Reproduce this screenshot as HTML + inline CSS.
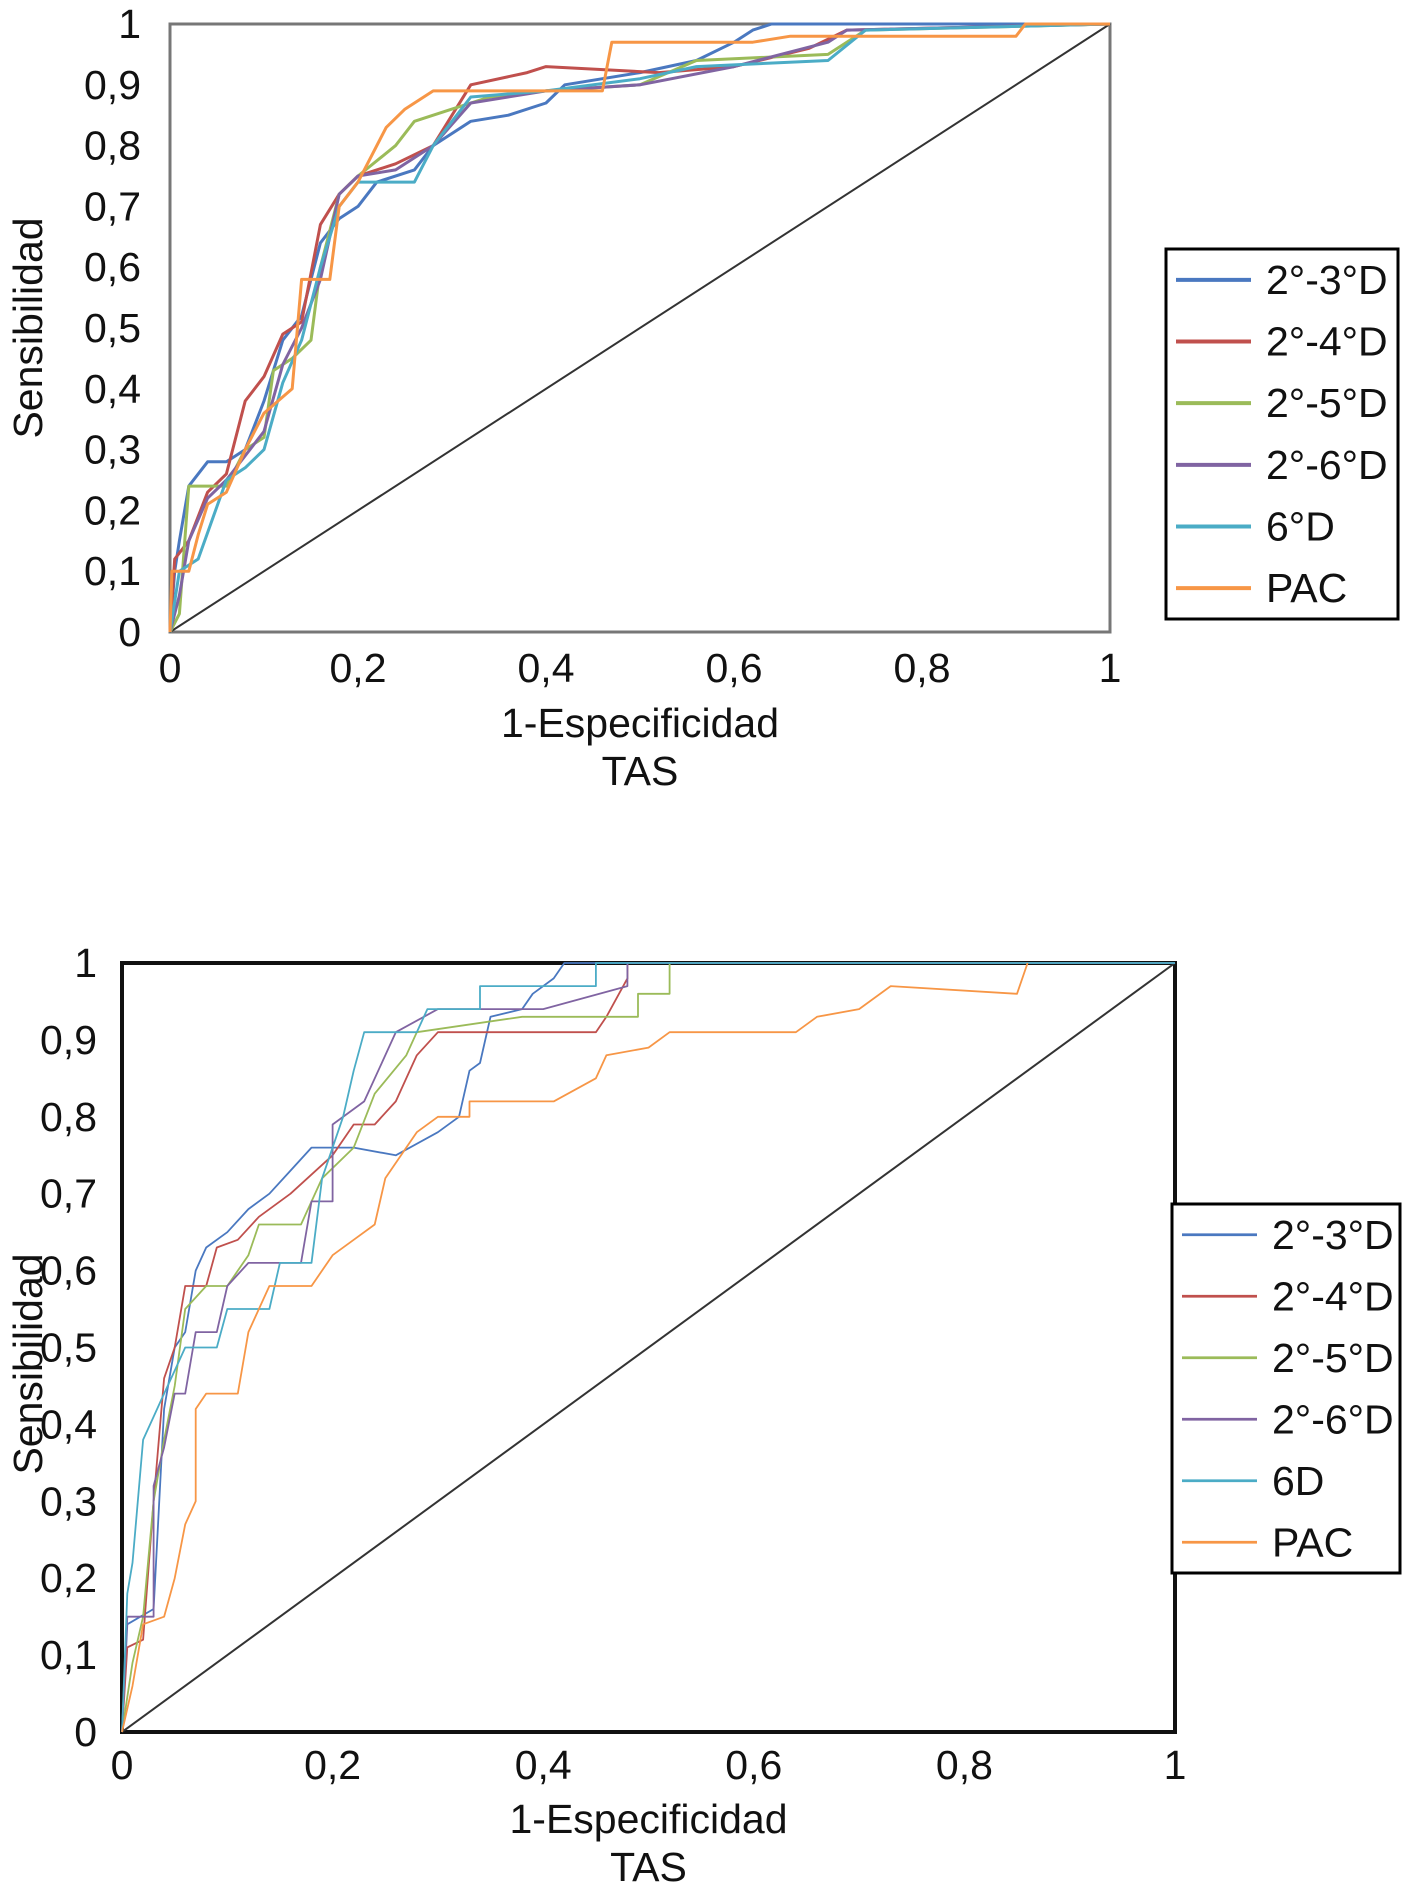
<!DOCTYPE html>
<html><head><meta charset="utf-8">
<style>
html,body{margin:0;padding:0;background:#fff;}
svg{display:block;font-family:"Liberation Sans",sans-serif;}
</style></head>
<body>
<svg id="svg" width="1404" height="1897" viewBox="0 0 1404 1897" xmlns="http://www.w3.org/2000/svg"></svg>
<script>
const seriesNames = ["2°-3°D","2°-4°D","2°-5°D","2°-6°D","6°D","PAC"];
const seriesNamesB = ["2°-3°D","2°-4°D","2°-5°D","2°-6°D","6D","PAC"];
const colors = ["#4a78c0","#c0504d","#9bbb59","#8064a2","#4bacc6","#f79646"];
const tickValues = [0,0.2,0.4,0.6,0.8,1];
const tickLabels = ["0","0,2","0,4","0,6","0,8","1"];
const yTickValues = [0,0.1,0.2,0.3,0.4,0.5,0.6,0.7,0.8,0.9,1];
const yTickLabels = ["0","0,1","0,2","0,3","0,4","0,5","0,6","0,7","0,8","0,9","1"];

const topBlue = [[0,0],[0.005,0.1],[0.01,0.15],[0.02,0.24],[0.04,0.28],[0.06,0.28],[0.08,0.3],[0.1,0.38],[0.12,0.48],[0.14,0.52],[0.16,0.64],[0.18,0.68],[0.2,0.7],[0.22,0.74],[0.26,0.76],[0.28,0.8],[0.32,0.84],[0.36,0.85],[0.4,0.87],[0.42,0.9],[0.5,0.92],[0.56,0.94],[0.6,0.97],[0.62,0.99],[0.64,1],[1,1]];
const topRed = [[0,0],[0.005,0.12],[0.02,0.15],[0.04,0.23],[0.06,0.26],[0.08,0.38],[0.1,0.42],[0.12,0.49],[0.14,0.51],[0.16,0.67],[0.18,0.72],[0.2,0.75],[0.24,0.77],[0.28,0.8],[0.32,0.9],[0.38,0.92],[0.4,0.93],[0.52,0.92],[0.6,0.93],[0.68,0.96],[0.72,0.99],[1,1]];
const topGreen = [[0,0],[0.01,0.03],[0.02,0.24],[0.06,0.24],[0.08,0.3],[0.1,0.32],[0.11,0.43],[0.13,0.45],[0.15,0.48],[0.16,0.6],[0.18,0.72],[0.2,0.75],[0.24,0.8],[0.26,0.84],[0.3,0.86],[0.34,0.88],[0.4,0.89],[0.5,0.9],[0.56,0.94],[0.7,0.95],[0.74,0.99],[1,1]];
const topPurple = [[0,0],[0.01,0.06],[0.02,0.15],[0.04,0.22],[0.06,0.25],[0.1,0.33],[0.12,0.44],[0.14,0.5],[0.16,0.58],[0.17,0.65],[0.18,0.72],[0.2,0.75],[0.24,0.76],[0.28,0.8],[0.32,0.87],[0.4,0.89],[0.5,0.9],[0.6,0.93],[0.7,0.97],[0.72,0.99],[1,1]];
const topCyan = [[0,0],[0.01,0.1],[0.03,0.12],[0.06,0.25],[0.08,0.27],[0.1,0.3],[0.12,0.41],[0.14,0.48],[0.16,0.6],[0.18,0.7],[0.2,0.74],[0.26,0.74],[0.28,0.8],[0.32,0.88],[0.4,0.89],[0.5,0.91],[0.56,0.93],[0.7,0.94],[0.74,0.99],[1,1]];
const topPac = [[0,0],[0.002,0.1],[0.02,0.1],[0.03,0.16],[0.04,0.21],[0.06,0.23],[0.08,0.3],[0.1,0.36],[0.13,0.4],[0.14,0.58],[0.17,0.58],[0.18,0.7],[0.2,0.74],[0.23,0.83],[0.25,0.86],[0.28,0.89],[0.46,0.89],[0.47,0.97],[0.62,0.97],[0.66,0.98],[0.9,0.98],[0.91,1],[1,1]];

const botBlue = [[0,0],[0.005,0.14],[0.03,0.16],[0.04,0.42],[0.05,0.5],[0.06,0.52],[0.07,0.6],[0.08,0.63],[0.1,0.65],[0.12,0.68],[0.14,0.7],[0.16,0.73],[0.18,0.76],[0.22,0.76],[0.26,0.75],[0.3,0.78],[0.32,0.8],[0.33,0.86],[0.34,0.87],[0.35,0.93],[0.38,0.94],[0.39,0.96],[0.41,0.98],[0.42,1],[1,1]];
const botRed = [[0,0],[0.005,0.11],[0.02,0.12],[0.03,0.3],[0.04,0.46],[0.05,0.5],[0.06,0.58],[0.08,0.58],[0.09,0.63],[0.11,0.64],[0.13,0.67],[0.16,0.7],[0.2,0.75],[0.22,0.79],[0.24,0.79],[0.26,0.82],[0.27,0.85],[0.28,0.88],[0.3,0.91],[0.45,0.91],[0.46,0.93],[0.48,0.98],[0.48,1],[1,1]];
const botGreen = [[0,0],[0.01,0.09],[0.02,0.15],[0.03,0.3],[0.04,0.38],[0.05,0.45],[0.06,0.55],[0.08,0.58],[0.1,0.58],[0.12,0.62],[0.13,0.66],[0.17,0.66],[0.19,0.72],[0.22,0.76],[0.24,0.83],[0.27,0.88],[0.28,0.91],[0.38,0.93],[0.49,0.93],[0.49,0.96],[0.52,0.96],[0.52,1],[1,1]];
const botPurple = [[0,0],[0.005,0.15],[0.03,0.15],[0.03,0.32],[0.04,0.37],[0.05,0.44],[0.06,0.44],[0.07,0.52],[0.09,0.52],[0.1,0.58],[0.12,0.61],[0.17,0.61],[0.18,0.69],[0.2,0.69],[0.2,0.79],[0.23,0.82],[0.25,0.88],[0.26,0.91],[0.3,0.94],[0.4,0.94],[0.48,0.97],[0.48,1],[1,1]];
const botCyan = [[0,0],[0.005,0.18],[0.01,0.22],[0.02,0.38],[0.03,0.41],[0.04,0.44],[0.05,0.47],[0.06,0.5],[0.09,0.5],[0.1,0.55],[0.14,0.55],[0.15,0.61],[0.18,0.61],[0.19,0.72],[0.21,0.8],[0.22,0.86],[0.23,0.91],[0.28,0.91],[0.29,0.94],[0.34,0.94],[0.34,0.97],[0.45,0.97],[0.45,1],[1,1]];
const botPac = [[0,0],[0.01,0.06],[0.02,0.14],[0.04,0.15],[0.05,0.2],[0.06,0.27],[0.07,0.3],[0.07,0.42],[0.08,0.44],[0.11,0.44],[0.12,0.52],[0.13,0.55],[0.14,0.58],[0.18,0.58],[0.2,0.62],[0.22,0.64],[0.24,0.66],[0.25,0.72],[0.28,0.78],[0.3,0.8],[0.33,0.8],[0.33,0.82],[0.41,0.82],[0.45,0.85],[0.46,0.88],[0.5,0.89],[0.52,0.91],[0.64,0.91],[0.66,0.93],[0.7,0.94],[0.73,0.97],[0.85,0.96],[0.86,1]];

const topSeries = [topBlue,topRed,topGreen,topPurple,topCyan,topPac];
const botSeries = [botBlue,botRed,botGreen,botPurple,botCyan,botPac];

const FS = 41;
const NS = "http://www.w3.org/2000/svg";
const svg = document.getElementById("svg");
function mk(tag, attrs, parent, text){
  const e = document.createElementNS(NS, tag);
  for (const k in attrs) e.setAttribute(k, attrs[k]);
  if (text !== undefined) e.textContent = text;
  (parent||svg).appendChild(e);
  return e;
}

function drawChart(cfg){
  const g = mk("g", {});
  
  
  const xS = v => cfg.L + v*(cfg.R-cfg.L);
  const yS = v => cfg.B - v*(cfg.B-cfg.T);
  const fr = mk("rect", {x:cfg.L, y:cfg.T, width:cfg.R-cfg.L, height:cfg.B-cfg.T, fill:"none", stroke:cfg.frameColor, "stroke-width":cfg.frameW}, g);
  
  
  const d = mk("line", {x1:xS(0), y1:yS(0), x2:xS(1), y2:yS(1), stroke:"#333", "stroke-width":2}, g);
  
  
  cfg.series.forEach((pts, i) => {
    const p = mk("polyline", {points: pts.map(q => xS(q[0]).toFixed(1)+","+yS(q[1]).toFixed(1)).join(" "), fill:"none", stroke:colors[i], "stroke-width":cfg.lineW, "stroke-linejoin":"round"}, g);
    
    
  });
  tickValues.forEach((v, i) => {
    const t = mk("text", {x:xS(v), y:cfg.xLabY, "text-anchor":"middle", "font-size":FS, fill:"#111"}, g, tickLabels[i]);
    
    
  });
  yTickValues.forEach((v, i) => {
    const t = mk("text", {x:cfg.yLabX, y:yS(v)+14, "text-anchor":"end", "font-size":FS, fill:"#111"}, g, yTickLabels[i]);
    
    
  });
  const xt = mk("text", {x:(cfg.L+cfg.R)/2, y:cfg.xTitleY, "text-anchor":"middle", "font-size":FS, fill:"#111"}, g, "1-Especificidad");
  
  
  const st = mk("text", {x:(cfg.L+cfg.R)/2, y:cfg.xTitleY+48, "text-anchor":"middle", "font-size":FS, fill:"#111"}, g, "TAS");
  
  
  const yt = mk("text", {x:0, y:0, "text-anchor":"middle", "font-size":FS, fill:"#111", transform:"translate("+cfg.yTitleX+","+cfg.yTitleY+") rotate(-90)"}, g, "Sensibilidad");
  
  
  const lg = mk("g", {}, g);
  
  
  mk("rect", {x:cfg.lgX, y:cfg.lgY, width:cfg.lgW, height:cfg.lgH, fill:"#fff", stroke:"#000", "stroke-width":3}, lg);
  const step = cfg.lgH/6;
  cfg.names.forEach((n, i) => {
    const cy = cfg.lgY + step*(i+0.5);
    const e = mk("g", {}, lg);
    
    
    mk("line", {x1:cfg.lgX+10, y1:cy, x2:cfg.lgX+85, y2:cy, stroke:colors[i], "stroke-width":cfg.lineW+1}, e);
    mk("text", {x:cfg.lgX+100, y:cy+14, "font-size":FS, fill:"#111"}, e, n);
  });
}

drawChart({name:"top-roc-chart", L:170, R:1110, T:24, B:632, frameColor:"#777", frameW:3, lineW:3,
  series:topSeries, names:seriesNames, xLabY:682, yLabX:141, xTitleY:737, yTitleX:42, yTitleY:328,
  lgX:1166, lgY:249, lgW:232, lgH:370});
drawChart({name:"bottom-roc-chart", L:122, R:1175, T:963, B:1732, frameColor:"#111", frameW:4, lineW:1.8,
  series:botSeries, names:seriesNamesB, xLabY:1779, yLabX:97, xTitleY:1833, yTitleX:42, yTitleY:1364,
  lgX:1172, lgY:1204, lgW:228, lgH:369});
</script>
</body></html>
